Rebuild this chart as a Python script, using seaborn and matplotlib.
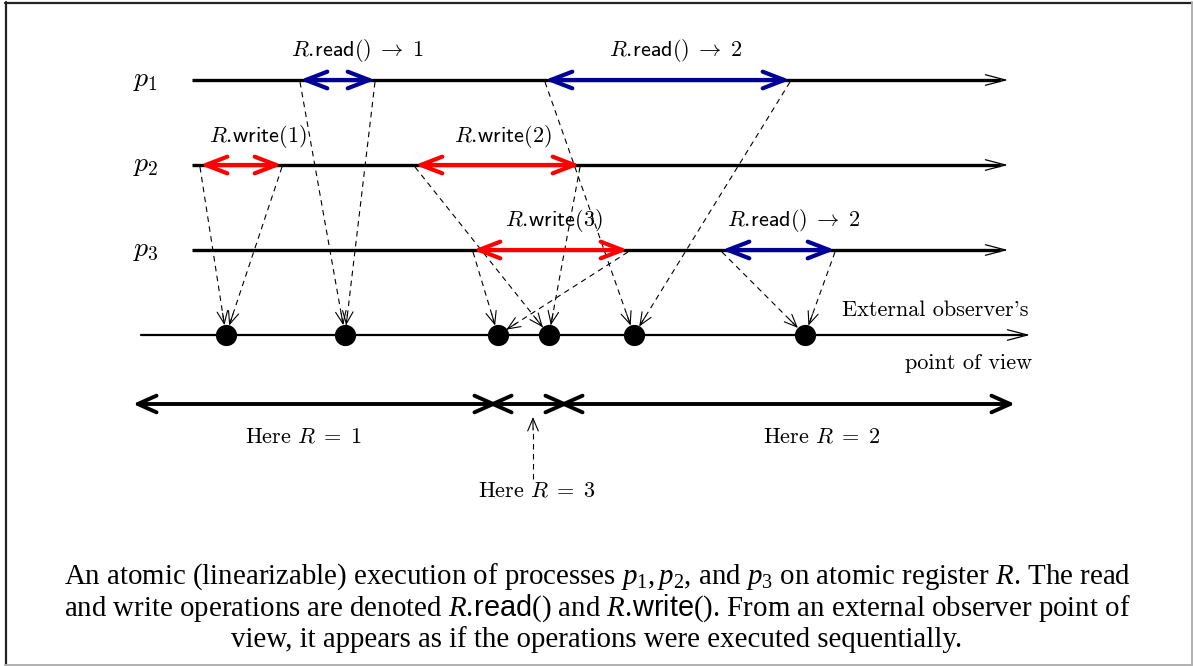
import numpy as np
import matplotlib
matplotlib.use('Agg')
import matplotlib.pyplot as plt
import seaborn as sns

# processes and their timelines
proc_names = ['$p_1$', '$p_2$', '$p_3$']
proc_y = [80, 165, 250]

# operations: process index, kind, label, start, end, linearization point
op_proc = [1, 0, 1, 2, 0, 2]
op_kind = ['write', 'read', 'write', 'write', 'read', 'read']
op_label = [r'$R.\!\mathsf{write}(1)$', r'$R.\!\mathsf{read}()\;\rightarrow\;1$',
            r'$R.\!\mathsf{write}(2)$', r'$R.\!\mathsf{write}(3)$',
            r'$R.\!\mathsf{read}()\;\rightarrow\;2$', r'$R.\!\mathsf{read}()\;\rightarrow\;2$']
op_start = [200, 300, 415, 473, 545, 722]
op_end = [282, 375, 580, 628, 790, 835]
op_label_x = [258, 357, 503, 554, 676, 794]
lin_point = [226, 345, 549, 498, 634, 805]

# value of R seen by the external observer
region_bounds = [133, 493, 564, 1015]
region_value = [1, 3, 2]
region_label_x = [303, 537, 822]

caption = [
    r'An atomic (linearizable) execution of processes $p_1, p_2$, and $p_3$ on atomic register $R$. The read',
    r'and write operations are denoted $R.\!\mathsf{read}()$ and $R.\!\mathsf{write}()$. From an external observer point of',
    'view, it appears as if the operations were executed sequentially.',
]

sns.set_theme(style='white')
plt.rcParams['mathtext.fontset'] = 'cm'
plt.rcParams['mathtext.rm'] = 'Liberation Serif'
plt.rcParams['mathtext.it'] = 'Liberation Serif:italic'
plt.rcParams['mathtext.sf'] = 'Liberation Sans'
plt.rcParams['font.family'] = ['cmr10', 'DejaVu Serif']
plt.rcParams['text.color'] = 'black'

fig = plt.figure(figsize=(11.93, 6.66), dpi=100)
ax = fig.add_axes([0, 0, 1, 1])

col = {'read': '#000099', 'write': '#ff0000'}
obs_y = 335


def arrow(x0, y0, x1, y1, style, lw, color='black', ls='-'):
    ax.annotate('', xy=(x1, y1), xytext=(x0, y0),
                arrowprops=dict(arrowstyle=style, lw=lw, color=color, ls=ls,
                                shrinkA=0, shrinkB=0, mutation_scale=10))


def dashed_arrow(x0, y0, x1, y1, stop=10):
    d = np.array([x1 - x0, y1 - y0], float)
    u = d / np.hypot(*d)
    tip = np.array([x1, y1]) - stop * u
    ax.plot([x0, tip[0]], [y0, tip[1]], color='black', lw=0.8, ls=(0, (5, 4)))
    back = tip - 12 * u
    arrow(back[0], back[1], tip[0], tip[1], '->,head_length=0.9,head_width=0.38', 0.8)


# process timelines
for name, y in zip(proc_names, proc_y):
    ax.plot([192, 1000], [y, y], color='black', lw=2.4, solid_capstyle='butt')
    arrow(985, y, 1008, y, '->,head_length=1.45,head_width=0.38', 0.9)
    ax.text(146, y, name, fontsize=20, ha='center', va='center')

# observer timeline
ax.plot([141, 1022], [obs_y, obs_y], color='black', lw=1.6)
arrow(1005, obs_y, 1030, obs_y, '->,head_length=1.45,head_width=0.38', 0.9)
ax.text(1028, 310, "External observer's", fontsize=16, ha='right', va='center')
ax.text(1032, 363, 'point of view', fontsize=16, ha='right', va='center')

# dashed links from operation bounds to linearization points
for p, s, e, lp in zip(op_proc, op_start, op_end, lin_point):
    y = proc_y[p]
    dashed_arrow(s, y + 2, lp, obs_y)
    dashed_arrow(e, y + 2, lp, obs_y)

# operations
for p, k, lab, s, e, lx in zip(op_proc, op_kind, op_label, op_start, op_end, op_label_x):
    y = proc_y[p]
    arrow(s, y, e, y, '<->,head_length=1.55,head_width=0.6', 3.0, color=col[k])
    ax.text(lx, y - 29, lab, fontsize=16, ha='center', va='center')

# linearization points
sns.scatterplot(x=lin_point, y=[obs_y] * len(lin_point), ax=ax, s=200,
                color='black', edgecolor='black', legend=False, zorder=6)

# regions where R has a given value (inner heads cross into an X)
n_reg = len(region_value)
for i, v in enumerate(region_value):
    x0 = region_bounds[i] - (5 if i > 0 else 0)
    x1 = region_bounds[i + 1] + (5 if i < n_reg - 1 else 0)
    arrow(x0, 404, x1, 404, '<->,head_length=1.35,head_width=0.6', 2.8)
    txt = r'Here $R\;=\;%d$' % v
    if v == 3:
        ax.plot([533, 533], [479, 428], color='black', lw=0.8, ls=(0, (5, 4)))
        arrow(533, 430, 533, 417, '->,head_length=0.9,head_width=0.38', 0.8)
        ax.text(region_label_x[i], 491, txt, fontsize=16, ha='center', va='center')
    else:
        ax.text(region_label_x[i], 437, txt, fontsize=16, ha='center', va='center')

# caption
for i, line in enumerate(caption):
    ax.text(597, 577 + 31.5 * i, line, fontsize=20.8, ha='center', va='center',
            family=['Liberation Serif'], math_fontfamily='custom')

# frame
ax.plot([5, 1192], [2.5, 2.5], color='#222222', lw=1.6)
ax.plot([5.5, 5.5], [2, 666], color='#222222', lw=1.6)
ax.plot([1192, 1192], [2, 665], color='#b0b0b0', lw=1.4)
ax.plot([5, 1192], [664.5, 664.5], color='#b0b0b0', lw=1.4)

ax.set_xlim(0, 1193)
ax.set_ylim(666, 0)
ax.axis('off')
fig.savefig('out.png', dpi=100)
